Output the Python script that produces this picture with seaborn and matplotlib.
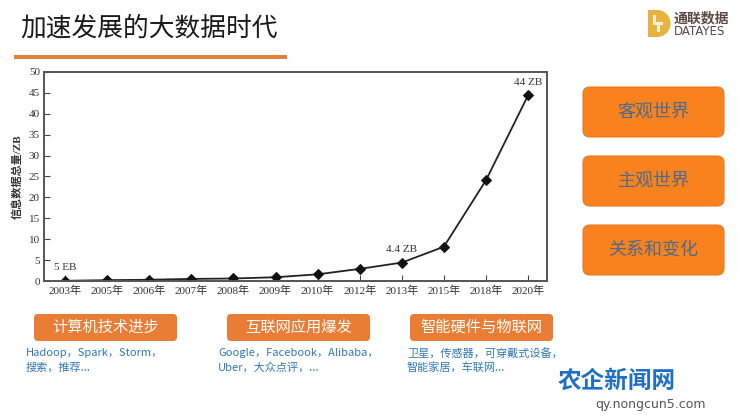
import matplotlib
matplotlib.use("Agg")
import matplotlib.pyplot as plt
import seaborn as sns
import pandas as pd
from matplotlib.patches import FancyBboxPatch, Rectangle, Wedge, Polygon

# ---- data ----
years = ["2003年", "2005年", "2006年", "2007年", "2008年", "2009年",
         "2010年", "2012年", "2013年", "2015年", "2018年", "2020年"]
volume_zb = [0.05, 0.2, 0.3, 0.5, 0.6, 0.9, 1.6, 2.9, 4.4, 8.2, 24.1, 44.4]
annotations = {"2003年": "5 EB", "2013年": "4.4 ZB", "2020年": "44 ZB"}
yticks = [0, 5, 10, 15, 20, 25, 30, 35, 40, 45, 50]
title = "加速发展的大数据时代"
right_boxes = ["客观世界", "主观世界", "关系和变化"]
bottom_boxes = ["计算机技术进步", "互联网应用爆发", "智能硬件与物联网"]
bottom_notes = [["Hadoop，Spark，Storm，", "搜索，推荐..."],
                ["Google，Facebook，Alibaba，", "Uber，大众点评，..."],
                ["卫星，传感器，可穿戴式设备，", "智能家居，车联网..."]]

sns.set_theme(style="white")
plt.rcParams['font.family'] = ['Noto Sans CJK SC', 'DejaVu Sans']
SERIF = ['Liberation Serif', 'Noto Sans CJK SC']

W, H = 740, 415
fig = plt.figure(figsize=(7.4, 4.15), dpi=100)
fig.patch.set_facecolor("white")

# overlay in pixel coordinates (origin top-left)
ov = fig.add_axes([0, 0, 1, 1], zorder=0)
ov.set_xlim(0, W)
ov.set_ylim(H, 0)
ov.axis("off")

# title
ov.text(20, 29, title, fontsize=18.5, color="#1a1a1a", va="center", ha="left")
ov.add_patch(Rectangle((14, 55.5), 273, 3.5, facecolor="#E0823A", edgecolor="none"))

# logo
gold = "#E6B43C"
ov.add_patch(Rectangle((648, 10), 10, 27, facecolor=gold, edgecolor="none"))
ov.add_patch(Wedge((657, 23.5), 13.5, -90, 90, facecolor=gold, edgecolor="none"))
ov.add_patch(Polygon([(653, 15), (655.5, 15), (655.5, 22.5), (663, 22.5), (663, 25),
                      (659.5, 25), (659.5, 32), (657, 32), (657, 25), (653, 25)],
                     closed=True, facecolor="white", edgecolor="none", alpha=0.8))
ov.text(674, 18, "通联数据", fontsize=10, color="#5a4a45", va="center", ha="left",
        fontweight="bold")
ov.text(674, 31.5, "DATAYES", fontsize=8.5, color="#5a4a45", va="center", ha="left",
        family=['DejaVu Sans'])

# right boxes
for i, label in enumerate(right_boxes):
    top = 87 + i * 69
    ov.add_patch(FancyBboxPatch((583, top), 141, 50,
                                boxstyle="round,pad=0,rounding_size=7",
                                facecolor="#F7821E", edgecolor="#E57A25", linewidth=0.8))
    ov.text(653.5, top + 25, label, fontsize=13, color="#4E6A8C",
            ha="center", va="center")

# bottom boxes
bx = [34, 227, 410]
nx = [26, 218, 407]
for i, label in enumerate(bottom_boxes):
    ov.add_patch(FancyBboxPatch((bx[i], 314), 143, 27,
                                boxstyle="round,pad=0,rounding_size=4",
                                facecolor="#E97D35", edgecolor="none"))
    ov.text(bx[i] + 71.5, 327.5, label, fontsize=11, color="white",
            ha="center", va="center")
    for j, line in enumerate(bottom_notes[i]):
        ov.text(nx[i], 353 + j * 14.5, line, fontsize=8, color="#2F78B8",
                ha="left", va="center")

# watermark
ov.text(558, 381, "农企新闻网", fontsize=17, color="#1E6FC8", fontweight="bold",
        ha="left", va="center")
ov.text(595, 404, "qy.nongcun5.com", fontsize=9, color="#555555",
        ha="left", va="center", family=['DejaVu Sans'])

# chart
ax = fig.add_axes([44 / W, 1 - 281 / H, (547 - 44) / W, (281 - 72) / H], zorder=2)
df = pd.DataFrame({"year": years, "zb": volume_zb})
sns.lineplot(data=df, x="year", y="zb", ax=ax, color="#222222", linewidth=1.3,
             marker="D", markersize=5.5, markeredgecolor="#111111",
             markerfacecolor="#111111", sort=False)
ax.set_xlim(-0.5, len(years) - 0.55)
ax.set_ylim(0, 50)
ax.set_yticks(yticks)
ax.set_yticklabels([str(t) for t in yticks], family=SERIF, fontsize=8, color="#333333")
ax.set_xticks(range(len(years)))
ax.set_xticklabels(years, family=SERIF, fontsize=8, color="#333333")
ax.tick_params(axis="both", direction="in", length=4, width=0.8, color="#444444", pad=3,
               bottom=True, left=True)
for s in ax.spines.values():
    s.set_color("#555555")
    s.set_linewidth(1.4)
ax.set_xlabel("")
ax.set_ylabel("信息数据总量/ZB", family=SERIF, fontsize=8, color="#333333", labelpad=4,
              fontweight="bold")
for i, (y, v) in enumerate(zip(years, volume_zb)):
    if y in annotations:
        ax.annotate(annotations[y], (i, v), xytext=(0, 6), textcoords="offset points",
                    ha="center", va="bottom", family=SERIF, fontsize=8, color="#333333")

fig.savefig("out.png", dpi=100, facecolor="white")
